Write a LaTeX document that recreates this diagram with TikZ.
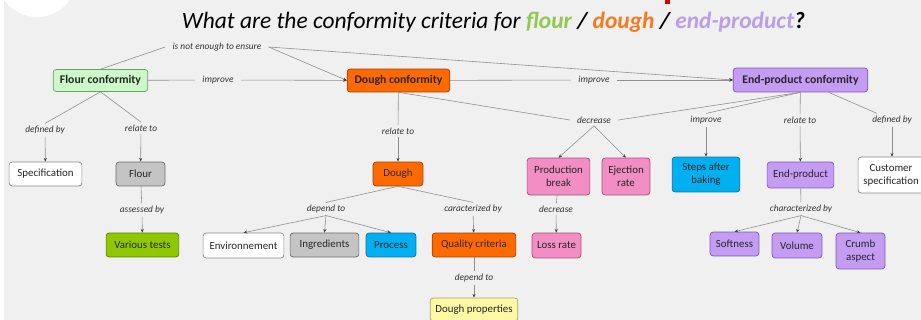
\documentclass[tikz,border=0pt]{standalone}
\usepackage{fontspec}
\setmainfont{Carlito}
\usetikzlibrary{arrows.meta}
\definecolor{bg}{HTML}{F0F0F0}
\definecolor{lgray}{HTML}{8E8E8E}
\definecolor{cgreen}{HTML}{CCF7C8}\definecolor{bgreen}{HTML}{6E9E6A}
\definecolor{corange}{HTML}{FF6A00}\definecolor{borange}{HTML}{9A4000}
\definecolor{clav}{HTML}{C59CF3}\definecolor{blav}{HTML}{7A5AA8}
\definecolor{cgray}{HTML}{C4C4C4}\definecolor{bgray}{HTML}{6A6A6A}
\definecolor{cvar}{HTML}{8FC800}\definecolor{bvar}{HTML}{5A7E10}
\definecolor{ccyan}{HTML}{00B0F0}\definecolor{bcyan}{HTML}{1A6E96}
\definecolor{cpink}{HTML}{F28EC4}\definecolor{bpink}{HTML}{A0506E}
\definecolor{cyel}{HTML}{FCF8A4}\definecolor{byel}{HTML}{A8A460}
\definecolor{tflour}{HTML}{92C850}\definecolor{tdough}{HTML}{F47A20}\definecolor{tend}{HTML}{B9A0E6}
\def\px{0.8505pt}

\begin{document}
\begin{tikzpicture}[x=0.03cm,y=-0.03cm,
  box/.style={rounded corners=2.5pt,line width=0.6pt,align=center,inner sep=1pt,
    text=black!85,font=\fontsize{9.3}{11}\selectfont},
  top/.style={box,font=\fontsize{10}{12}\selectfont\bfseries},
  sz/.style 2 args={minimum width=#1*\px,minimum height=#2*\px},
  wbox/.style={fill=white,draw=bgray!80},
  gbox/.style={fill=cgray,draw=bgray},
  grbox/.style={fill=cgreen,draw=bgreen},
  obox/.style={fill=corange,draw=borange},
  lbox/.style={fill=clav,draw=blav},
  vbox/.style={fill=cvar,draw=bvar},
  cbox/.style={fill=ccyan,draw=bcyan},
  pbox/.style={fill=cpink,draw=bpink},
  ybox/.style={fill=cyel,draw=byel},
  lbl/.style={font=\fontsize{8}{9}\selectfont\itshape,text=black!80,inner xsep=6pt,inner ysep=2pt},
  lnk/.style={draw=lgray,line width=0.5pt},
  arr/.style={lnk,-{Stealth[length=3.2pt,width=2.6pt,color=black!75]}}]
\useasboundingbox (0,0) rectangle (921,320);
\clip (0,0) rectangle (921,320);
\fill[bg] (0,0) rectangle (921,320);
\fill[white] (0,0) rectangle (4,320);
\fill[white] (37,-23) circle (1.2cm);
\fill[red!85!black] (665,0) rectangle (670,4);

% title
\node[font=\fontsize{20}{24}\selectfont\itshape] (title) at (493.5,22)
  {What are the conformity criteria for \textbf{\textcolor{tflour}{flour} / \textcolor{tdough}{dough} / \textcolor{tend}{end-product}?}};

% top row
\node[top,grbox,sz={95}{22}] (flourconf) at (100.5,80.5) {Flour conformity};
\node[top,obox,sz={103}{23}] (doughconf) at (398.5,80.5) {Dough conformity};
\node[top,lbox,sz={135}{24}] (endconf) at (800.5,80) {End-product conformity};
\node[lbl] (notenough) at (217,47) {is not enough to ensure};
\node[lbl] (imp1) at (218,80) {improve};
\node[lbl] (imp2) at (594,80) {improve};

% flour branch
\node[lbl] (def1) at (45,130) {defined by};
\node[lbl] (rel1) at (141,128) {relate to};
\node[box,wbox,sz={73}{24}] (spec) at (45.5,174) {Specification};
\node[box,gbox,sz={49}{24}] (flour) at (140.5,174) {Flour};
\node[lbl] (assess) at (142,210) {assessed by};
\node[box,vbox,sz={73}{24}] (tests) at (142.5,245) {Various tests};

% dough branch
\node[lbl] (rel2) at (398,131) {relate to};
\node[box,obox,sz={50}{24}] (dough) at (398,174) {Dough};
\node[lbl] (dep1) at (326,209) {depend to};
\node[lbl] (car1) at (473,209) {caracterized by};
\node[box,wbox,sz={81}{25}] (env) at (243.5,245.5) {Environnement};
\node[box,gbox,sz={69}{24}] (ingr) at (324.5,245) {Ingredients};
\node[box,cbox,sz={50}{24}] (proc) at (391,245) {Process};
\node[box,obox,sz={84}{24}] (qual) at (474,245) {Quality criteria};
\node[lbl] (dep2) at (474,278) {depend to};
\node[box,ybox,sz={88}{23}] (dprop) at (474,309.5) {Dough properties};

% end-product branch
\node[lbl] (dec1) at (594,120) {decrease};
\node[lbl] (imp3) at (706,120) {improve};
\node[lbl] (rel3) at (800,120) {relate to};
\node[lbl] (def2) at (892,120) {defined by};
\node[box,pbox,sz={63}{37}] (pbreak) at (558.5,176.5) {Production\\break};
\node[box,pbox,sz={48}{37}] (eject) at (626,176.5) {Ejection\\rate};
\node[box,cbox,sz={68}{35}] (steps) at (706,174.5) {Steps after\\baking};
\node[box,lbox,sz={67}{26}] (endp) at (800.5,175) {End-product};
\node[box,wbox,sz={66}{36}] (cust) at (891,175) {Customer\\specification};
\node[lbl] (dec2) at (556,209) {decrease};
\node[box,pbox,sz={49}{25}] (loss) at (556.5,245.5) {Loss rate};
\node[lbl] (char1) at (801,209) {characterized by};
\node[box,lbox,sz={49}{24}] (soft) at (734.5,244) {Softness};
\node[box,lbox,sz={50}{25}] (vol) at (797,245.5) {Volume};
\node[box,lbox,sz={49}{36}] (crumb) at (860.5,251) {Crumb\\aspect};

% links
\draw[lnk] (flourconf.north) -- (notenough.west);
\draw[arr] (notenough.east) -- (doughconf.west);
\draw[arr] (notenough.east) -- (endconf.west);
\draw[lnk] (flourconf) -- (imp1);
\draw[arr] (imp1) -- (doughconf);
\draw[lnk] (doughconf) -- (imp2);
\draw[arr] (imp2) -- (endconf);

\draw[lnk] (flourconf.south) -- (def1.north);
\draw[lnk] (flourconf.south) -- (rel1.north);
\draw[arr] (def1) -- (spec);
\draw[arr] (rel1) -- (flour);
\draw[lnk] (flour) -- (assess);
\draw[arr] (assess) -- (tests);

\draw[lnk] (doughconf) -- (rel2);
\draw[arr] (rel2) -- (dough);
\draw[lnk] (dough.south) -- (dep1.north);
\draw[lnk] (dough.south) -- (car1.north);
\foreach \t in {env,ingr,proc} \draw[arr] (dep1.south) -- (\t.north);
\draw[arr] (car1) -- (qual);
\draw[lnk] (qual) -- (dep2);
\draw[arr] (dep2) -- (dprop);

\draw[lnk] (doughconf.south) -- (dec1.west);
\draw[lnk] (endconf.south) -- (dec1.east);
\draw[lnk] (endconf.south) -- (imp3.north);
\draw[lnk] (endconf) -- (rel3);
\draw[lnk] (endconf) -- (def2);
\foreach \t in {pbreak,eject} \draw[arr] (dec1.south) -- (\t.north);
\draw[arr] (imp3) -- (steps);
\draw[arr] (rel3) -- (endp);
\draw[arr] (def2) -- (def2 |- cust.north);
\draw[lnk] (pbreak) -- (dec2);
\draw[arr] (dec2) -- (loss);
\draw[lnk] (endp) -- (char1);
\foreach \t in {soft,vol,crumb} \draw[arr] (char1.south) -- (\t.north);
\end{tikzpicture}
\end{document}
